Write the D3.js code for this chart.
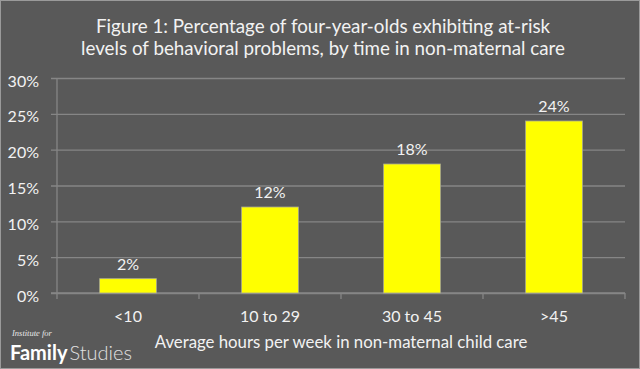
<!DOCTYPE html>
<html>
<head>
<meta charset="utf-8">
<script src="https://cdn.jsdelivr.net/npm/d3@7/dist/d3.min.js"></script>
<style>
  html, body { margin: 0; padding: 0; background: #595959; }
  svg { display: block; }
  svg text { font-family: Lato, "Open Sans", sans-serif; }
</style>
</head>
<body>
<svg id="chart" width="640" height="369"></svg>
<script>
const categories = ["<10", "10 to 29", "30 to 45", ">45"];
const values = [2, 12, 18, 24];
const yTicks = [0, 5, 10, 15, 20, 25, 30];
const titleLines = [
  "Figure 1: Percentage of four-year-olds exhibiting at-risk",
  "levels of behavioral problems, by time in non-maternal care"
];
const xTitle = "Average hours per week in non-maternal child care";

const W = 640, H = 369;
const margin = { left: 57, right: 15, top: 78, bottom: 76 };
const svg = d3.select("#chart");

svg.append("rect").attr("x", 0.5).attr("y", 0.5).attr("width", W - 1).attr("height", H - 1)
  .attr("fill", "#595959").attr("stroke", "#9a9a9a").attr("stroke-width", 1);

const x = d3.scaleBand().domain(categories)
  .range([margin.left, W - margin.right])
  .paddingInner(0.6).paddingOuter(0.3);
const y = d3.scaleLinear().domain([0, 30]).range([H - margin.bottom, margin.top]);

const textColor = "#f2f2f2";
const gridColor = "#868686";

// gridlines + y labels
const gy = svg.append("g").attr("transform", `translate(${W - margin.right},0)`).call(
  d3.axisLeft(y).tickValues(yTicks).tickSize(W - margin.right - margin.left + 6).tickFormat(d => d + "%").tickPadding(12)
);
gy.select(".domain").remove();
gy.selectAll(".tick line").attr("stroke", gridColor).attr("stroke-width", 1.3);
gy.selectAll(".tick text").attr("fill", textColor).attr("font-size", 16)
  .attr("dy", "0.5em");

// y axis line
svg.append("line").attr("x1", margin.left).attr("x2", margin.left)
  .attr("y1", y(30)).attr("y2", y(0) + 6).attr("stroke", gridColor).attr("stroke-width", 1.3);

// x axis with boundary ticks
const step = x.step();
const boundaries = d3.range(categories.length + 1).map(i => margin.left + i * step);
svg.append("line").attr("x1", margin.left - 6).attr("x2", W - margin.right)
  .attr("y1", y(0)).attr("y2", y(0)).attr("stroke", gridColor).attr("stroke-width", 1.3);
svg.selectAll(".bt").data(boundaries.slice(1)).enter().append("line")
  .attr("x1", d => d).attr("x2", d => d).attr("y1", y(0)).attr("y2", y(0) + 6)
  .attr("stroke", gridColor).attr("stroke-width", 1.3);

// bars
svg.selectAll(".bar").data(values).enter().append("rect")
  .attr("x", (d, i) => x(categories[i]))
  .attr("y", d => y(d))
  .attr("width", x.bandwidth())
  .attr("height", d => y(0) - y(d))
  .attr("fill", "#ffff00")
  .attr("stroke", "#a8a890").attr("stroke-width", 0.8);

// value labels
svg.selectAll(".vl").data(values).enter().append("text")
  .attr("x", (d, i) => x(categories[i]) + x.bandwidth() / 2)
  .attr("y", d => y(d) - 9)
  .attr("text-anchor", "middle").attr("fill", textColor).attr("font-size", 16)
  .text(d => d + "%");

// category labels
svg.selectAll(".cl").data(categories).enter().append("text")
  .attr("x", d => x(d) + x.bandwidth() / 2)
  .attr("y", 322)
  .attr("text-anchor", "middle").attr("fill", textColor).attr("font-size", 16)
  .text(d => d);

// x title
svg.append("text").attr("x", (margin.left + W - margin.right) / 2).attr("y", 348)
  .attr("text-anchor", "middle").attr("fill", textColor).attr("font-size", 16.8)
  .text(xTitle);

// chart title
svg.selectAll(".tt").data(titleLines).enter().append("text")
  .attr("x", 323).attr("y", (d, i) => 33 + i * 22)
  .attr("text-anchor", "middle").attr("fill", textColor).attr("font-size", 18.8)
  .text(d => d);

// logo
svg.append("text").attr("x", 12).attr("y", 336)
  .style("font-family", "'Liberation Serif', 'DejaVu Serif', serif").style("font-style", "italic")
  .attr("font-size", 8.5).attr("fill", "#e8e8e8").text("Institute for");
const logo = svg.append("text").attr("x", 10).attr("y", 360).attr("font-size", 20).attr("fill", "#ffffff");
logo.append("tspan").attr("font-weight", 700).text("Family");
logo.append("tspan").attr("font-weight", 300).attr("dx", 2).attr("fill", "#e0e0e0").text("Studies");
</script>
</body>
</html>
